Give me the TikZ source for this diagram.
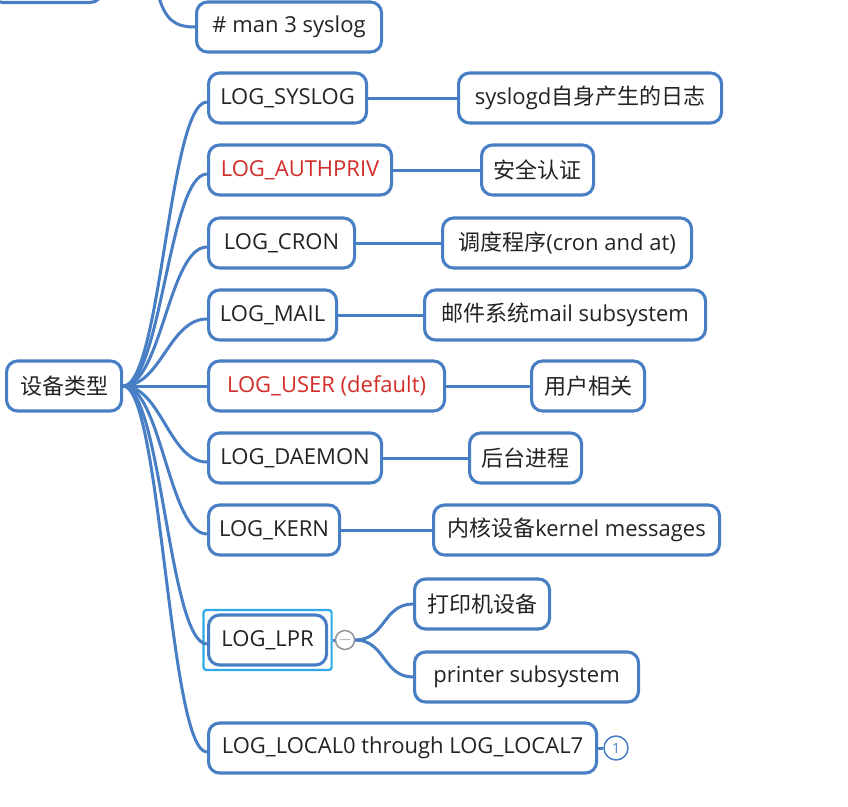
\documentclass[tikz,border=0pt]{standalone}
\usepackage{fontspec}
\setmainfont{Open Sans}
\newfontfamily\cjk{Noto Sans CJK SC}
\usetikzlibrary{fit}
\definecolor{boxblue}{RGB}{72,126,196}
\definecolor{txt}{RGB}{35,35,35}
\definecolor{redtxt}{RGB}{210,45,40}
\definecolor{selcyan}{RGB}{45,170,230}
\definecolor{cgray}{RGB}{150,150,160}
\tikzset{
  box/.style={draw=boxblue, line width=3.1pt, rounded corners=11pt, fill=white,
    minimum height=50pt, inner xsep=9pt, anchor=west, text=txt,
    font=\fontsize{22}{25}\selectfont},
  wd/.style={minimum width=#1},
  link/.style={draw=boxblue, line width=3pt},
  redt/.style={text=redtxt}
}
\begin{document}
\begin{tikzpicture}[x=1pt,y=-1pt]
\useasboundingbox (0,0) rectangle (848,806);

% partial box at top
\node[box, anchor=south west, minimum width=110pt] (topbox) at (-10,4) {};
\coordinate (topstart) at (158,-6);

\node[box, wd=185pt] (man) at (195,27) {\# man 3 syslog};

% root
\node[box, wd=115pt] (root) at (5,386) {\cjk 设备类型};

% level 1
\node[box, wd=158pt] (syslog) at (207,98) {LOG\_SYSLOG};
\node[box, wd=183pt, redt] (auth) at (207,170) {LOG\_AUTHPRIV};
\node[box, wd=146pt] (cron) at (207,243) {LOG\_CRON};
\node[box, wd=128pt] (mail) at (207,315) {LOG\_MAIL};
\node[box, wd=236pt, redt] (user) at (207,386) {LOG\_USER (default)};
\node[box, wd=173pt] (daemon) at (207,458) {LOG\_DAEMON};
\node[box, wd=131pt] (kern) at (207,530) {LOG\_KERN};
\node[box, wd=118pt] (lpr) at (207,640) {LOG\_LPR};
\node[box, wd=388pt] (local) at (207,748) {LOG\_LOCAL0 through LOG\_LOCAL7};

% level 2
\node[box, wd=263pt] (syslogc) at (457,98) {syslogd{\cjk 自身产生的日志}};
\node[box, wd=112pt] (authc) at (480,170) {\cjk 安全认证};
\node[box, wd=249pt] (cronc) at (441,243) {{\cjk 调度程序}(cron and at)};
\node[box, wd=281pt] (mailc) at (423,315) {{\cjk 邮件系统}mail subsystem};
\node[box, wd=113pt] (userc) at (530,386) {\cjk 用户相关};
\node[box, wd=112pt] (daemonc) at (468,458) {\cjk 后台进程};
\node[box, wd=286pt] (kernc) at (432,530) {{\cjk 内核设备}kernel messages};
\node[box, wd=135pt] (lpra) at (413,604) {\cjk 打印机设备};
\node[box, wd=224pt] (lprb) at (413,677) {printer subsystem};

% selection highlight
\node[draw=selcyan, line width=2.2pt, rounded corners=3pt, inner sep=3.5pt, fit=(lpr)] (sel) {};

% collapse / count markers
\node[circle, draw=cgray, line width=1.5pt, fill=white, minimum size=19pt, inner sep=0pt,
  text=cgray, font=\fontsize{16}{16}\selectfont] (lprc) at (345,640) {$-$};
\node[circle, draw=boxblue, line width=1.5pt, fill=white, minimum size=24pt, inner sep=0pt,
  text=boxblue, font=\fontsize{14}{15}\selectfont] (localc) at (616,748) {1};

% connectors
\foreach \n in {syslog,auth,cron,mail,daemon,kern,lpr,local}{
  \draw[link] (root.east) .. controls +(38,0) and +(-38,0) .. ([yshift=-4pt]\n.west);
}
\draw[link] (root.east) -- (user.west);
\draw[link] (topstart) .. controls (165,20) and (175,27) .. (man.west);

\draw[link] (syslog) -- (syslogc);
\draw[link] (auth) -- (authc);
\draw[link] (cron) -- (cronc);
\draw[link] (mail) -- (mailc);
\draw[link] (user) -- (userc);
\draw[link] (daemon) -- (daemonc);
\draw[link] (kern) -- (kernc);
\draw[link] (local.east) -- (localc.west);
\draw[link] (sel.east) -- (lprc.west);
\draw[link] (lprc.east) .. controls +(30,0) and +(-30,0) .. (lpra.west);
\draw[link] (lprc.east) .. controls +(30,0) and +(-30,0) .. (lprb.west);
\end{tikzpicture}
\end{document}
